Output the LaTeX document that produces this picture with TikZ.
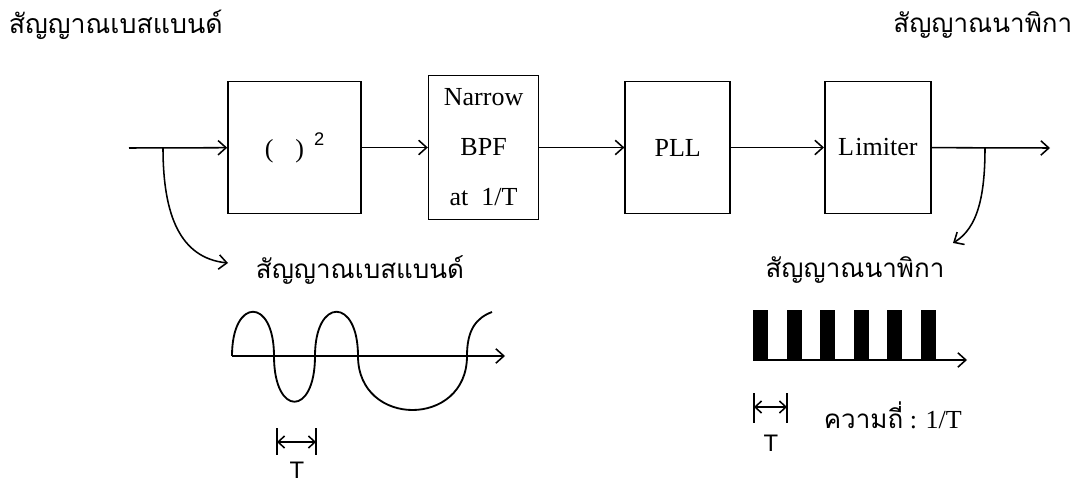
\documentclass[tikz,border=0pt]{standalone}
\usepackage{fontspec}
\setmainfont{Liberation Serif}
\newfontfamily\thaifont[Script=Thai]{Loma}
\newfontfamily\sansfont{Liberation Sans}
\usetikzlibrary{arrows.meta,positioning}

\begin{document}
\begin{tikzpicture}[x=0.025cm,y=-0.025cm,line width=1.1pt,
  every node/.style={font=\fontsize{18.5}{35.5}\selectfont,align=center,inner sep=0pt},
  blk/.style={draw,minimum height=3.3cm},
  th/.style={font=\thaifont\fontsize{18.5}{22}\selectfont},
  a/.style={-{Straight Barb[length=2mm,width=3.6mm]}},
  ta/.style={{Straight Barb[length=1.6mm,width=3mm]}-{Straight Barb[length=1.6mm,width=3mm]}}]
\useasboundingbox (0,0) rectangle (1080,485);
% titles
\node[th,font=\thaifont\fontsize{19}{22}\selectfont,anchor=west] (bbtitle) at (8,25) {สัญญาณเบสแบนด์};
\node[th,anchor=east] (cktitle) at (1073,25) {สัญญาณนาพิกา};
% blocks
\node[blk,minimum width=3.325cm] (sq) at (294.5,147.5) {(\hspace{0.55cm})\hspace{0.25cm}\raisebox{0.3cm}{\sansfont\fontsize{13}{13}\selectfont 2}};
\node[blk,right=1.65cm of sq,minimum width=2.75cm,minimum height=3.6cm] (bpf) {Narrow\\BPF\\at\ \ 1/T};
\node[blk,right=2.125cm of bpf,minimum width=2.625cm] (pll) {PLL};
\node[blk,right=2.325cm of pll,minimum width=2.65cm] (lim) {L\kern0.06em imiter};
\coordinate (in) at (129,148);
\coordinate (out) at (1050,148);
\coordinate (tap1) at (163,148);
\coordinate (tap2) at (985,148);
\draw[a] (in)--(sq);\draw[a] (sq)--(bpf);\draw[a] (bpf)--(pll);
\draw[a] (pll)--(lim);\draw[a] (lim)--(out);
% taps
\node[th] (bblbl) at (360,270) {สัญญาณเบสแบนด์};
\node[th] (cklbl) at (855,270) {สัญญาณนาพิกา};
\coordinate (br1) at (228,263);
\coordinate (br2) at (953,243);
\draw[a] (tap1) .. controls (163,215) and (180,258) .. (br1);
\draw[a] (tap2) .. controls (985,195) and (978,228) .. (br2);
% baseband wave
\draw[a] (232,356)--(505,356);
\draw[line width=1.3pt] (232,356) .. controls (232,297) and (274,297) .. (274,356)
  .. controls (274,417) and (315,417) .. (315,356)
  .. controls (315,297) and (358,297) .. (358,356)
  .. controls (358,428) and (467,428) .. (467,356)
  .. controls (467,330) and (476,318) .. (492,312);
\draw (277,428)--(277,455) (316,428)--(316,455);
\draw[ta] (277,442)--(316,442);
\node[font=\sansfont\fontsize{17}{20}\selectfont] (t1) at (297,470) {T};
% clock pulses
\foreach \i in {0,...,5} \fill (753+33.6*\i,310) rectangle ++(15,50);
\draw[a] (753,360)--(967,360);
\draw (754,393)--(754,423) (787,393)--(787,423);
\draw[ta] (754,407)--(787,407);
\node[font=\sansfont\fontsize{17}{20}\selectfont] (t2) at (771,443) {T};
\node[anchor=west] (freq) at (823,415) {{\thaifont ความถี่} : 1/T};
\end{tikzpicture}
\end{document}
